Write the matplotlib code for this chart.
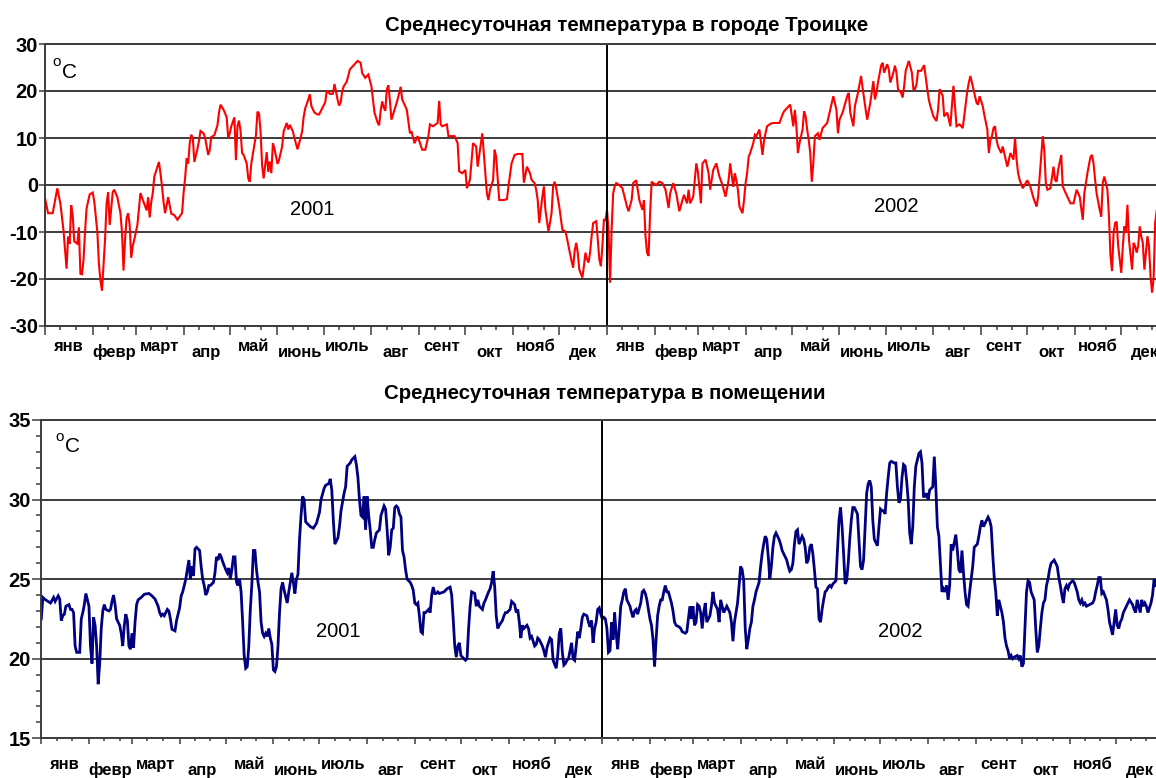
import matplotlib.pyplot as plt

plt.rcParams['font.family'] = ['Liberation Sans', 'DejaVu Sans']
plt.rcParams['axes.unicode_minus'] = False

W, H = 1156, 778
DAYS = 365

months = ['янв', 'февр', 'март', 'апр', 'май', 'июнь',
          'июль', 'авг', 'сент', 'окт', 'нояб', 'дек']
month_len = [31, 28, 31, 30, 31, 30, 31, 31, 30, 31, 30, 31]
years = ['2001', '2002']

out_title = 'Среднесуточная температура в городе Троицке'
in_title = 'Среднесуточная температура в помещении'

# (день года, °C)
out_2001 = [
    (0, -2.8), (2, -6), (5, -6), (8, -0.7), (10, -4), (12, -9.6), (14, -17.8), (15, -11),
    (16, -12.5), (17, -4.3), (18, -6.5), (19, -12), (21, -12.5), (22, -9), (23, -18.9),
    (24, -19), (25, -16), (26, -10), (27, -5), (29, -2), (31, -1.6), (32, -3.5), (34, -10),
    (35, -16.7), (36, -20.3), (37, -22.5), (38, -17), (39, -11.6), (40, -4), (41, -1.5),
    (42, -8.5), (44, -1.5), (45, -1), (47, -2.6), (49, -6), (50, -10), (51, -18.2),
    (52, -11.6), (53, -7), (54, -6), (55, -8.5), (56, -15.5), (57, -13), (58, -11.6),
    (60, -8.5), (61, -5.1), (62, -1.7), (64, -3.6), (66, -5.4), (67, -2.6), (68, -6.9),
    (69, -3.6), (70, -1.7), (71, 1.8), (73, 3.9), (74, 4.9), (75, 2.5), (76, -0.3),
    (77, -3.7), (78, -6), (80, -2.6), (82, -6.1), (84, -6.4), (86, -7.4), (89, -6),
    (90, -1.7), (91, 1.5), (92, 5.7), (93, 4.6), (94, 8.9), (95, 10.7), (96, 10), (97, 4.9),
    (99, 7.7), (100, 9.4), (101, 11.5), (103, 11), (104, 10), (106, 6.4), (107, 7.5),
    (108, 10.2), (110, 10.6), (112, 12.7), (113, 15.4), (114, 17.1), (116, 16), (118, 14.4),
    (119, 9.9), (120, 11), (121, 12.5), (123, 14.4), (124, 5.3), (125, 12.5), (126, 13.7),
    (127, 11.5), (128, 6.8), (129, 6.4), (131, 4.6), (132, 1.4), (133, 0.7), (134, 4.6),
    (136, 8.6), (137, 10.6), (138, 15.6), (139, 15.2), (140, 11.4), (141, 4.2), (142, 1.4),
    (143, 4.2), (144, 7), (145, 2.8), (146, 5), (147, 2.5), (148, 8.9), (149, 7.8),
    (151, 4.5), (152, 5.3), (154, 8.2), (155, 11.4), (157, 13.2), (158, 11.8), (159, 12.8),
    (161, 11.4), (162, 10), (164, 7.6), (166, 10), (167, 11.4), (168, 14.5), (169, 16.3),
    (171, 18.2), (172, 19.3), (173, 16.8), (175, 15.4), (177, 15), (178, 15), (180, 16.3),
    (182, 17.6), (183, 20.1), (185, 19.4), (187, 19.4), (188, 21.5), (190, 18.2),
    (191, 16.9), (192, 17.5), (193, 19.9), (194, 21), (196, 22), (198, 24.6), (200, 25.3),
    (203, 26.4), (205, 26), (206, 23.8), (208, 22.8), (210, 23.5), (212, 21), (213, 18.2),
    (214, 15.4), (216, 13.3), (217, 12.7), (218, 15.8), (219, 17.8), (220, 16.5),
    (221, 15.8), (222, 20.3), (223, 21.2), (224, 18), (225, 13.9), (227, 16), (229, 18.2),
    (231, 20.9), (232, 18.2), (235, 16), (237, 11), (238, 11.4), (240, 8.9), (242, 10.4),
    (245, 7.5), (247, 7.5), (249, 10.4), (250, 12.9), (252, 12.5), (255, 13.2), (256, 17.9),
    (257, 12.9), (258, 12.5), (261, 12.9), (262, 10.4), (264, 10.4), (266, 10.4), (268, 8.9),
    (269, 2.9), (271, 2.5), (273, 3.2), (274, -0.7), (276, 1.1), (278, 8.9), (280, 8.2),
    (281, 3.9), (284, 11), (285, 6.8), (286, 2.5), (287, -1.8), (288, -3.2), (289, -1),
    (291, 1), (292, 7.5), (293, 6), (295, -3.2), (298, -3.2), (300, -3), (301, -0.3),
    (303, 4.6), (305, 6.4), (307, 6.6), (310, 6.6), (311, 0.5), (313, 3.9), (315, 2.5),
    (316, 1.1), (318, 0.4), (319, -1), (320, -3.2), (321, -8.1), (323, -2.5), (324, -0.3),
    (325, -5.3), (327, -9.9), (329, -6), (330, -0.3), (331, 0.7), (332, -0.7), (334, -4.6),
    (336, -9.5), (338, -9.9), (339, -11.3), (340, -13), (342, -16.2), (343, -17.6),
    (344, -14), (345, -12.3), (346, -14.4), (347, -18), (349, -19.7), (350, -17.3),
    (351, -14.4), (352, -15.8), (353, -16.5), (354, -14.4), (355, -10.9), (356, -8.1),
    (358, -7.7), (359, -11.6), (360, -15.8), (361, -17.3), (362, -13), (363, -7.4),
    (364, -7.5),
]

out_2002 = [
    (0, -5.3), (1, -9.5), (2, -20.8), (3, -9.5), (4, -1.8), (5, -0.3), (6, 0.4), (8, 0),
    (10, -0.7), (13, -4.6), (14, -5.6), (16, -3.2), (17, 0.4), (19, 1), (21, -3.2),
    (23, -5.3), (24, -3.2), (25, -10.9), (26, -14.4), (27, -15.1), (28, -6), (29, 0.7),
    (30, 0.4), (32, 0), (34, 0.7), (36, 0.4), (38, -1), (40, -4.9), (41, -1.8), (43, 0.4),
    (45, -1.8), (47, -5.6), (49, -3.2), (50, -2.1), (52, -3.9), (53, -1), (54, -3.9),
    (56, -2.5), (58, 4.6), (59, 2.9), (61, -3.9), (62, 4.6), (64, 5.4), (66, 2.5), (67, -1),
    (69, 3.2), (71, 4.6), (73, 1.8), (75, 0), (77, -2.5), (79, 1.1), (80, 4.6), (82, -0.4),
    (83, 2.5), (84, 1), (85, -1), (86, -4.6), (88, -6), (89, -3.2), (90, 0.4), (91, 2.5),
    (92, 6), (93, 6.8), (95, 8.9), (96, 10.7), (97, 10.4), (99, 11.8), (101, 6.4), (102, 9.5),
    (103, 11.1), (104, 12.5), (106, 13), (108, 13.2), (110, 13.2), (112, 13.2), (114, 15),
    (115, 15.7), (117, 16.4), (119, 17.1), (121, 12.5), (122, 16), (123, 12.5), (124, 6.8),
    (125, 8.9), (127, 11.8), (128, 15.7), (129, 14.6), (130, 11.8), (131, 9.6), (132, 6.8),
    (133, 0.7), (134, 4.6), (135, 10.4), (137, 11), (138, 9.6), (140, 12.1), (143, 13.2),
    (145, 16), (147, 18.9), (149, 16), (150, 11), (151, 13.9), (153, 15.4), (156, 18.9),
    (157, 19.6), (158, 15.4), (160, 12.5), (161, 16.8), (163, 19.6), (165, 23.2), (166, 20.7),
    (168, 16), (169, 13.9), (171, 17.5), (173, 22.1), (174, 18.2), (175, 19.6), (176, 21.8),
    (178, 25.4), (179, 26), (180, 23.9), (182, 25.7), (183, 24.6), (184, 21.8), (186, 23.9),
    (187, 25.4), (188, 23.9), (189, 20.4), (191, 19.6), (192, 18.6), (193, 21.1), (194, 24.3),
    (196, 26.4), (198, 23.9), (199, 20.4), (200, 20.4), (201, 21.4), (202, 24.3), (204, 24.3),
    (206, 25.5), (208, 20.4), (209, 18.2), (210, 16.8), (212, 14.6), (214, 13.6), (215, 16),
    (216, 20.4), (218, 19), (219, 14.6), (221, 15.4), (223, 12.5), (225, 21.1), (226, 16.8),
    (227, 12.5), (229, 12.9), (231, 12.1), (232, 14.6), (234, 20), (235, 21.8), (236, 23.2),
    (238, 20.4), (240, 17.5), (241, 17.1), (242, 18.9), (244, 16.8), (245, 15), (247, 11.8),
    (248, 6.8), (249, 9.6), (250, 10.4), (251, 12.1), (252, 12.5), (253, 9.6), (254, 8.2),
    (256, 6.8), (257, 8.2), (259, 5.4), (260, 3.9), (262, 6.8), (264, 5.4), (265, 10),
    (266, 5.4), (267, 2.5), (268, 1.1), (270, -0.7), (273, 1), (275, -0.4), (277, -2.8),
    (279, -4.6), (280, -2.5), (282, 6), (283, 10.4), (284, 7.5), (285, 0.4), (286, -1),
    (288, -0.7), (290, 3.9), (291, 1.1), (292, 0.7), (293, 3.2), (295, 6.4), (296, -0.3),
    (298, -1.8), (301, -3.9), (303, -3.9), (305, -1), (307, -2.5), (309, -7.4), (310, -1.8),
    (312, 2.5), (314, 6), (315, 6.4), (316, 4.6), (317, 1.1), (318, -1.8), (320, -5.3),
    (321, -6.7), (322, 0.5), (323, 1.8), (325, -1), (326, -6.7), (327, -15.1), (328, -18.3),
    (329, -10.2), (330, -8.1), (331, -7.8), (332, -13), (334, -18.7), (335, -13), (336, -8.8),
    (337, -10.2), (338, -4.2), (339, -11.6), (341, -18), (342, -12.3), (343, -13),
    (344, -14.4), (345, -13), (346, -8.8), (347, -11), (348, -12.3), (349, -18), (351, -10.9),
    (352, -13), (353, -19.4), (354, -22.9), (355, -20), (356, -8.1), (357, -5.5),
]

in_2001 = [
    (0, 22.5), (1, 23.85), (2, 23.75), (6, 23.5), (8, 23.85), (9, 23.6), (11, 23.95),
    (12, 23.75), (13, 22.4), (14, 22.7), (15, 22.8), (16, 23.3), (18, 23.4), (19, 23.1),
    (20, 23.1), (21, 22.9), (22, 20.8), (23, 20.4), (25, 20.4), (26, 22.5), (27, 22.9),
    (28, 23.4), (29, 24.1), (31, 23.3), (32, 20.8), (33, 19.7), (34, 22.6), (35, 22.1),
    (36, 20.8), (37, 18.4), (38, 19.7), (39, 21.9), (40, 23.0), (41, 23.4), (42, 23.1),
    (44, 23.0), (45, 23.1), (46, 23.6), (47, 24.0), (48, 23.4), (49, 22.5), (51, 22.1),
    (52, 21.6), (53, 20.8), (54, 22.1), (55, 22.8), (56, 22.4), (57, 20.8), (58, 20.6),
    (59, 21.6), (60, 20.7), (61, 22.3), (62, 23.4), (63, 23.7), (65, 23.85), (67, 24.05),
    (70, 24.1), (72, 23.95), (74, 23.75), (76, 23.3), (77, 22.9), (78, 22.7), (79, 22.8),
    (80, 22.7), (82, 23.1), (83, 23.0), (84, 22.5), (85, 21.85), (87, 21.75), (88, 22.4),
    (90, 23.2), (91, 23.95), (92, 24.2), (93, 24.6), (94, 25.0), (95, 25.6), (96, 26.2),
    (97, 25.0), (98, 25.8), (99, 25.2), (100, 26.9), (101, 27.0), (103, 26.8), (104, 25.8),
    (105, 25.0), (106, 24.6), (107, 24.0), (108, 24.2), (109, 24.6), (110, 24.6),
    (111, 24.7), (112, 24.8), (113, 25.4), (114, 26.4), (115, 26.2), (116, 26.6),
    (117, 26.4), (118, 26.1), (120, 25.6), (121, 25.4), (122, 25.7), (123, 25.0),
    (124, 25.6), (125, 26.4), (126, 26.4), (127, 24.8), (128, 24.6), (129, 25.0),
    (130, 24.2), (131, 22.3), (132, 20.2), (133, 19.4), (134, 19.5), (135, 20.8),
    (136, 23.1), (137, 24.7), (138, 26.8), (139, 26.8), (140, 25.6), (141, 24.8),
    (142, 24.2), (143, 22.3), (144, 21.6), (145, 21.4), (146, 21.6), (147, 21.4),
    (148, 21.9), (149, 21.3), (150, 20.9), (151, 19.3), (152, 19.2), (153, 19.5),
    (154, 20.8), (155, 22.9), (156, 24.4), (157, 24.8), (158, 24.3), (159, 23.9),
    (160, 23.5), (161, 24.2), (162, 24.8), (163, 25.4), (164, 24.8), (165, 24.1),
    (166, 25.0), (167, 25.3), (168, 27.5), (169, 29.0), (170, 30.2), (171, 30.0),
    (172, 28.6), (175, 28.3), (177, 28.2), (179, 28.5), (181, 29.2), (182, 30.0),
    (184, 30.7), (185, 30.9), (187, 31.0), (188, 31.3), (189, 30.6), (190, 28.7),
    (191, 27.2), (193, 27.6), (194, 28.3), (195, 29.3), (197, 30.4), (198, 30.8),
    (199, 32.1), (200, 32.2), (201, 32.3), (202, 32.5), (204, 32.7), (205, 32.2),
    (206, 31.4), (207, 30.0), (208, 29.0), (209, 28.9), (210, 30.2), (211, 28.1),
    (212, 30.2), (213, 29.0), (214, 28.1), (215, 27.0), (216, 27.0), (217, 27.5),
    (218, 27.9), (220, 28.1), (221, 29.0), (223, 29.6), (224, 29.4), (225, 28.1),
    (226, 26.5), (227, 27.0), (228, 28.1), (229, 28.2), (230, 29.5), (231, 29.6),
    (232, 29.5), (233, 29.1), (234, 28.9), (235, 26.8), (236, 26.4), (237, 25.6),
    (238, 25.0), (240, 24.8), (241, 24.6), (242, 24.3), (243, 23.5), (244, 23.4),
    (245, 23.5), (246, 22.7), (247, 21.7), (248, 21.6), (249, 22.9), (250, 22.9),
    (252, 23.1), (253, 22.9), (254, 24.0), (255, 24.5), (256, 24.1), (257, 24.1),
    (258, 24.2), (259, 24.1), (262, 24.2), (264, 24.4), (266, 24.5), (267, 24.0),
    (268, 22.5), (269, 20.8), (270, 20.1), (271, 20.8), (272, 21.0), (273, 20.2),
    (275, 20.0), (276, 19.9), (277, 20.0), (278, 21.9), (279, 23.3), (280, 24.2),
    (282, 24.1), (283, 23.3), (284, 23.7), (285, 23.3), (287, 23.1), (288, 23.5),
    (289, 23.7), (291, 24.2), (292, 24.4), (293, 24.8), (294, 25.5), (295, 24.5),
    (296, 22.7), (297, 21.9), (298, 22.1), (300, 22.4), (301, 22.7), (302, 22.9),
    (303, 22.9), (304, 23.0), (305, 23.1), (306, 23.6), (308, 23.4), (309, 22.9),
    (310, 23.1), (311, 22.3), (312, 21.3), (313, 22.1), (314, 21.9), (316, 22.1),
    (317, 21.9), (318, 21.3), (319, 21.4), (321, 20.8), (322, 20.9), (323, 21.3),
    (324, 21.2), (326, 20.8), (327, 20.5), (328, 20.1), (329, 20.7), (331, 21.3),
    (332, 21.2), (333, 19.9), (335, 19.4), (336, 20.2), (337, 21.6), (338, 21.9),
    (339, 20.4), (340, 19.6), (341, 19.7), (342, 19.9), (343, 20.0), (345, 21.0),
    (346, 20.0), (347, 19.9), (348, 20.8), (349, 21.7), (350, 21.3), (351, 21.9),
    (352, 22.6), (353, 22.8), (355, 22.7), (356, 22.3), (357, 22.0), (358, 22.4),
    (359, 21.0), (360, 21.9), (361, 22.3), (362, 23.1), (363, 23.2), (364, 22.8),
]

in_2002 = [
    (0, 22.5), (1, 22.6), (2, 22.5), (3, 21.9), (4, 20.4), (5, 20.5), (6, 22.3), (7, 21.2),
    (8, 22.9), (9, 21.6), (10, 20.6), (11, 21.9), (12, 23.3), (13, 23.7), (14, 24.2),
    (15, 24.4), (16, 23.7), (17, 23.5), (18, 23.3), (19, 22.9), (20, 22.6), (21, 23.0),
    (22, 23.1), (23, 22.8), (25, 23.5), (26, 24.2), (27, 24.3), (28, 24.1), (29, 23.7),
    (30, 23.1), (31, 22.5), (32, 22.1), (33, 21.2), (34, 19.5), (35, 21.2), (36, 22.7),
    (37, 23.3), (38, 23.7), (39, 23.7), (40, 24.2), (41, 24.6), (42, 24.2), (43, 24.2),
    (44, 23.85), (45, 23.5), (46, 23.0), (47, 22.3), (48, 22.1), (50, 22.0), (51, 21.9),
    (52, 21.7), (54, 21.6), (55, 21.7), (56, 22.5), (57, 23.3), (58, 22.5), (59, 23.3),
    (60, 22.1), (61, 22.3), (62, 23.4), (63, 23.3), (64, 22.9), (65, 21.9), (66, 22.9),
    (67, 23.5), (68, 22.3), (69, 22.5), (70, 22.7), (71, 23.3), (72, 24.2), (73, 23.5),
    (75, 23.1), (76, 22.3), (77, 23.7), (78, 23.3), (79, 22.9), (80, 23.1), (81, 23.3),
    (82, 23.1), (83, 22.9), (84, 22.3), (85, 21.1), (86, 22.3), (87, 22.9), (88, 23.5),
    (89, 24.6), (90, 25.8), (91, 25.6), (92, 24.9), (93, 21.9), (94, 20.6), (95, 21.2),
    (96, 21.9), (97, 22.3), (98, 23.3), (99, 23.7), (100, 24.2), (102, 24.8), (103, 25.8),
    (104, 26.6), (105, 27.2), (106, 27.7), (107, 27.5), (108, 26.4), (109, 25.0),
    (110, 25.8), (111, 27.0), (112, 27.7), (113, 27.9), (114, 27.7), (115, 27.5),
    (116, 27.2), (117, 26.8), (118, 26.6), (119, 26.4), (120, 26.2), (121, 25.8),
    (122, 25.5), (123, 25.6), (124, 26.0), (125, 27.2), (126, 28.0), (127, 28.1),
    (128, 27.2), (130, 27.7), (131, 27.5), (132, 27.0), (133, 26.0), (134, 26.2),
    (135, 27.0), (136, 27.2), (137, 26.6), (138, 25.6), (139, 24.5), (140, 24.4),
    (141, 22.5), (142, 22.3), (143, 23.1), (144, 23.7), (145, 24.2), (146, 24.3),
    (147, 24.5), (148, 24.6), (149, 24.5), (150, 24.7), (152, 24.9), (153, 26.8),
    (154, 28.7), (155, 29.5), (156, 28.3), (157, 26.6), (158, 24.7), (159, 24.9),
    (160, 26.0), (161, 27.5), (162, 28.7), (163, 29.5), (164, 29.5), (166, 29.1),
    (167, 27.5), (168, 25.8), (169, 25.6), (170, 26.2), (171, 28.3), (172, 30.4),
    (173, 31.0), (174, 31.2), (175, 30.8), (176, 28.7), (177, 27.5), (179, 27.1),
    (180, 28.3), (181, 29.4), (182, 29.3), (183, 29.3), (184, 29.1), (185, 30.4),
    (186, 31.4), (187, 32.3), (188, 32.4), (190, 32.3), (191, 32.3), (192, 30.8),
    (193, 29.8), (194, 30.0), (195, 31.4), (196, 32.2), (197, 32.1), (198, 31.2),
    (199, 30.0), (200, 27.9), (201, 27.2), (202, 28.3), (203, 30.8), (204, 32.1),
    (206, 32.9), (207, 33.0), (208, 32.3), (209, 30.2), (210, 30.2), (211, 30.4),
    (212, 30.0), (213, 30.6), (215, 30.8), (216, 32.7), (217, 30.8), (218, 28.3),
    (219, 27.7), (220, 26.0), (221, 24.2), (222, 24.4), (223, 24.2), (224, 24.6),
    (225, 23.7), (226, 24.6), (227, 27.2), (228, 26.8), (230, 27.8), (231, 26.8),
    (232, 25.6), (233, 25.4), (234, 26.8), (235, 25.4), (236, 24.2), (237, 23.4),
    (238, 23.3), (239, 24.2), (240, 25.0), (241, 25.8), (242, 27.0), (244, 27.2),
    (245, 27.7), (246, 28.3), (247, 28.7), (248, 28.3), (249, 28.5), (250, 28.7),
    (251, 28.9), (252, 28.7), (253, 28.3), (254, 26.6), (255, 25.1), (256, 24.2),
    (257, 22.7), (258, 23.7), (259, 23.3), (260, 22.9), (261, 22.3), (262, 21.3),
    (263, 20.8), (264, 20.5), (265, 20.0), (266, 20.2), (267, 20.0), (268, 20.1),
    (270, 20.2), (271, 20.0), (272, 20.2), (273, 19.5), (274, 19.7), (275, 21.9),
    (276, 24.2), (277, 24.9), (278, 24.8), (279, 24.2), (281, 23.7), (282, 21.9),
    (283, 20.4), (284, 20.8), (285, 21.9), (286, 22.9), (287, 23.5), (288, 23.7),
    (289, 24.6), (290, 25.0), (291, 25.6), (292, 26.0), (294, 26.2), (295, 26.0),
    (296, 25.8), (297, 25.1), (298, 24.6), (299, 24.0), (300, 23.5), (301, 24.4),
    (302, 24.6), (303, 24.4), (304, 24.7), (306, 24.9), (307, 24.8), (308, 24.5),
    (309, 24.2), (310, 23.7), (311, 23.5), (312, 23.7), (313, 23.4), (314, 23.5),
    (315, 23.3), (317, 23.4), (319, 23.5), (320, 23.7), (321, 24.2), (322, 24.6),
    (323, 25.1), (324, 25.1), (325, 24.1), (326, 24.2), (328, 23.7), (329, 23.1),
    (330, 22.3), (332, 21.5), (333, 22.3), (334, 23.1), (335, 22.1), (336, 21.9),
    (337, 22.3), (338, 22.5), (339, 22.9), (340, 23.1), (341, 23.3), (342, 23.5),
    (343, 23.7), (345, 23.4), (346, 23.1), (347, 22.9), (348, 23.7), (349, 23.3),
    (350, 22.9), (351, 23.7), (352, 23.3), (353, 23.5), (354, 23.3), (355, 22.9),
    (357, 23.5), (358, 24.0), (359, 25.0), (360, 24.6),
]


def two_years(y1, y2):
    days = [d for d, _ in y1] + [d + DAYS for d, _ in y2]
    vals = [v for _, v in y1] + [v for _, v in y2]
    return days, vals


def fx(x):
    return x / W


def fy(y):
    return 1 - y / H


starts = [sum(month_len[:i]) for i in range(12)]
major = [s + DAYS * k for k in range(2) for s in starts] + [2 * DAYS]
minor = [s + DAYS * k + o for k in range(2) for s in starts for o in (10, 20)]

GRID = '#3c3c3c'

fig = plt.figure(figsize=(W / 100, H / 100), dpi=100)

# рамка осей в пикселях: левый край, низ, ширина, высота
panels = [
    dict(box=(45, 326, 1124, 282), ylim=(-30, 30), step=10, yminor=None,
         data=two_years(out_2001, out_2002), color='#ff0000', lw=1.5,
         ytick=4, xtick=(6.5, 3), rows=(24.7, 30.7),
         title=out_title, title_xy=(627, 31),
         years_xy=[(312, 215), (896, 212)], unit=(52, 66)),
    dict(box=(41.3, 738.3, 1122, 318.3), ylim=(15, 35), step=5, yminor=1,
         data=two_years(in_2001, in_2002), color='#000080', lw=2.0,
         ytick=6.5, xtick=(4.3, 2.4), rows=(30.7, 36.7),
         title=in_title, title_xy=(605, 399),
         years_xy=[(338, 637), (900, 637)], unit=(55, 441)),
]

for p in panels:
    left, bottom, w, h = p['box']
    ax = fig.add_axes([fx(left), fy(bottom), w / W, h / H])
    days, vals = p['data']
    ax.plot(days, vals, color=p['color'], lw=p['lw'], solid_joinstyle='miter')
    ax.set_xlim(0, 2 * DAYS)
    ax.set_ylim(*p['ylim'])
    lo, hi = p['ylim']
    ax.set_yticks(range(lo, hi + 1, p['step']))
    if p['yminor']:
        ax.set_yticks(range(lo, hi + 1, p['yminor']), minor=True)
    ax.set_xticks(major)
    ax.set_xticks(minor, minor=True)
    ax.tick_params(axis='x', which='major', length=p['xtick'][0], width=1.1,
                   color=GRID, labelbottom=False)
    ax.tick_params(axis='x', which='minor', length=p['xtick'][1], width=1.1, color=GRID)
    ax.tick_params(axis='y', which='major', length=p['ytick'], width=1.1, color=GRID,
                   pad=1, labelsize=14.5)
    ax.tick_params(axis='y', which='minor', length=3.4, width=1.1, color=GRID)
    for lab in ax.get_yticklabels():
        lab.set_fontweight('bold')
    ax.grid(axis='y', color=GRID, lw=1.4)
    ax.axvline(DAYS, color='black', lw=1.4)
    for side in ('left', 'bottom', 'top'):
        ax.spines[side].set_color(GRID)
        ax.spines[side].set_linewidth(1.4)
    ax.spines['right'].set_visible(False)

    # подписи месяцев в два ряда
    tr = ax.get_xaxis_transform()
    for k in range(2):
        for i, m in enumerate(months):
            centre = DAYS * k + starts[i] + month_len[i] / 2
            off = p['rows'][i % 2]
            ax.text(centre, -off / h, m, transform=tr, ha='center', va='baseline',
                    fontsize=12, fontweight='bold')

    tx, ty = p['title_xy']
    fig.text(fx(tx), fy(ty), p['title'], ha='center', va='baseline',
             fontsize=14.7, fontweight='bold')
    for (x, y), yr in zip(p['years_xy'], years):
        fig.text(fx(x), fy(y), yr, ha='center', va='baseline', fontsize=14.5)
    ux, uy = p['unit']
    fig.text(fx(ux), fy(uy), 'o', ha='left', va='baseline', fontsize=11)
    fig.text(fx(ux + 9.5), fy(uy + 11.5), 'C', ha='left', va='baseline', fontsize=15)

fig.savefig('out.png', dpi=100)
